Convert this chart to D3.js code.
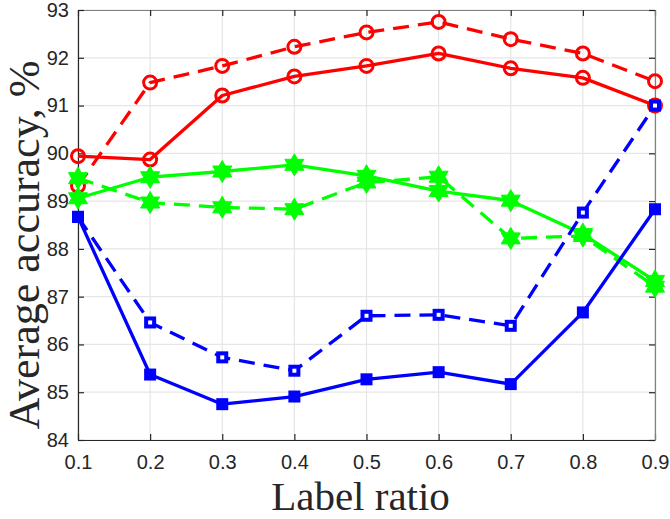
<!DOCTYPE html>
<html><head><meta charset="utf-8">
<script src="https://cdn.jsdelivr.net/npm/d3@7"></script>
<style>body{margin:0;background:#fff}</style>
</head><body><svg id="c" width="670" height="519"></svg>
<script>
const ratios = [0.1,0.2,0.3,0.4,0.5,0.6,0.7,0.8,0.9];
const redSolid   = [89.94,89.87,91.21,91.61,91.83,92.09,91.78,91.58,91.00];
const redDashed  = [89.32,91.48,91.83,92.23,92.53,92.75,92.39,92.09,91.51];
const greenSolid = [89.06,89.50,89.62,89.76,89.53,89.21,89.01,88.31,87.33];
const greenDashed= [89.48,88.97,88.87,88.83,89.39,89.51,88.22,88.27,87.21];
const blueSolid  = [88.67,85.37,84.75,84.91,85.27,85.42,85.17,86.67,88.83];
const blueDashed = [88.67,86.46,85.73,85.45,86.60,86.62,86.39,88.76,91.00];
const xTicks = [0.1,0.2,0.3,0.4,0.5,0.6,0.7,0.8,0.9];
const yTicks = [84,85,86,87,88,89,90,91,92,93];
const xLabel = "Label ratio";
const yLabel = "Average accuracy, %";

const L=78,R=655,T=10,B=440;
const svg=d3.select("#c");
const x=d3.scaleLinear().domain([0.1,0.9]).range([L,R]);
const y=d3.scaleLinear().domain([84,93]).range([B,T]);

// grid
const g=svg.append("g");
g.selectAll(".gx").data(xTicks).join("line").attr("x1",d=>x(d)).attr("x2",d=>x(d)).attr("y1",T).attr("y2",B).attr("stroke","#e6e6e6").attr("stroke-width",1.2);
g.selectAll(".gy").data(yTicks).join("line").attr("y1",d=>y(d)).attr("y2",d=>y(d)).attr("x1",L).attr("x2",R).attr("stroke","#e6e6e6").attr("stroke-width",1.2);

// axes
const tickFont="'Liberation Sans', Arial, sans-serif";
function styleAxis(sel){sel.select(".domain").attr("stroke","#262626").attr("stroke-width",1.2);
 sel.selectAll(".tick line").attr("stroke","#262626").attr("stroke-width",1.2);
 sel.selectAll("text").attr("fill","#262626").style("font-family",tickFont).style("font-size","20px");}
const xa=svg.append("g").attr("transform",`translate(0,${B})`).call(d3.axisBottom(x).tickValues(xTicks).tickFormat(d3.format(".1f")).tickSizeInner(-6).tickSizeOuter(0).tickPadding(15));
styleAxis(xa);
const xt=svg.append("g").attr("transform",`translate(0,${T})`).call(d3.axisTop(x).tickValues(xTicks).tickFormat("").tickSizeInner(-6).tickSizeOuter(0));
styleAxis(xt); xt.select(".domain").attr("stroke","#808080");
const ya=svg.append("g").attr("transform",`translate(${L},0)`).call(d3.axisLeft(y).tickValues(yTicks).tickFormat(d3.format("d")).tickSizeInner(-6).tickSizeOuter(0).tickPadding(9));
styleAxis(ya);
const yr=svg.append("g").attr("transform",`translate(${R},0)`).call(d3.axisRight(y).tickValues(yTicks).tickFormat("").tickSizeInner(-6).tickSizeOuter(0));
styleAxis(yr); yr.select(".domain").attr("stroke","#808080");

// labels
svg.append("text").attr("x",(L+R)/2-6).attr("y",510).attr("text-anchor","middle")
  .style("font-family","'Liberation Serif','Times New Roman',serif").style("font-size","41px").attr("fill","#262626").text(xLabel);
svg.append("text").attr("transform",`translate(39,245) rotate(-90)`).attr("text-anchor","middle")
  .style("font-family","'Liberation Serif','Times New Roman',serif").style("font-size","44px").attr("fill","#262626").text(yLabel);

// series
const line=d3.line().x((d,i)=>x(ratios[i])).y(d=>y(d));
function hexagram(r){const pts=[];for(let k=0;k<12;k++){const a=-Math.PI/2+k*Math.PI/6;const rr=k%2?r/Math.sqrt(3):r;pts.push([rr*Math.cos(a),rr*Math.sin(a)]);}return "M"+pts.join("L")+"Z";}
function series(vals,color,dashed,marker){
  const s=svg.append("g");
  s.append("path").datum(vals).attr("d",line).attr("fill","none").attr("stroke",color).attr("stroke-width",3.3)
   .attr("stroke-linejoin","round").attr("stroke-dasharray",dashed?"16,9":null);
  const m=s.selectAll(".m").data(vals).join("g").attr("transform",(d,i)=>`translate(${x(ratios[i])},${y(d)})`);
  if(marker==="circle") m.append("circle").attr("r",6.5).attr("fill","none").attr("stroke",color).attr("stroke-width",3);
  if(marker==="star") m.append("path").attr("d",hexagram(11)).attr("fill",color).attr("stroke",color).attr("stroke-width",1);
  if(marker==="sqFilled") m.append("rect").attr("x",-6).attr("y",-6).attr("width",12).attr("height",12).attr("fill",color);
  if(marker==="sqOpen") m.append("rect").attr("x",-4).attr("y",-4).attr("width",8).attr("height",8).attr("fill","#fff").attr("stroke",color).attr("stroke-width",4);
}
series(redDashed,"#ff0000",true,"circle");
series(redSolid,"#ff0000",false,"circle");
series(greenDashed,"#00ff00",true,"star");
series(greenSolid,"#00ff00",false,"star");
series(blueDashed,"#0000ff",true,"sqOpen");
series(blueSolid,"#0000ff",false,"sqFilled");
</script></body></html>
